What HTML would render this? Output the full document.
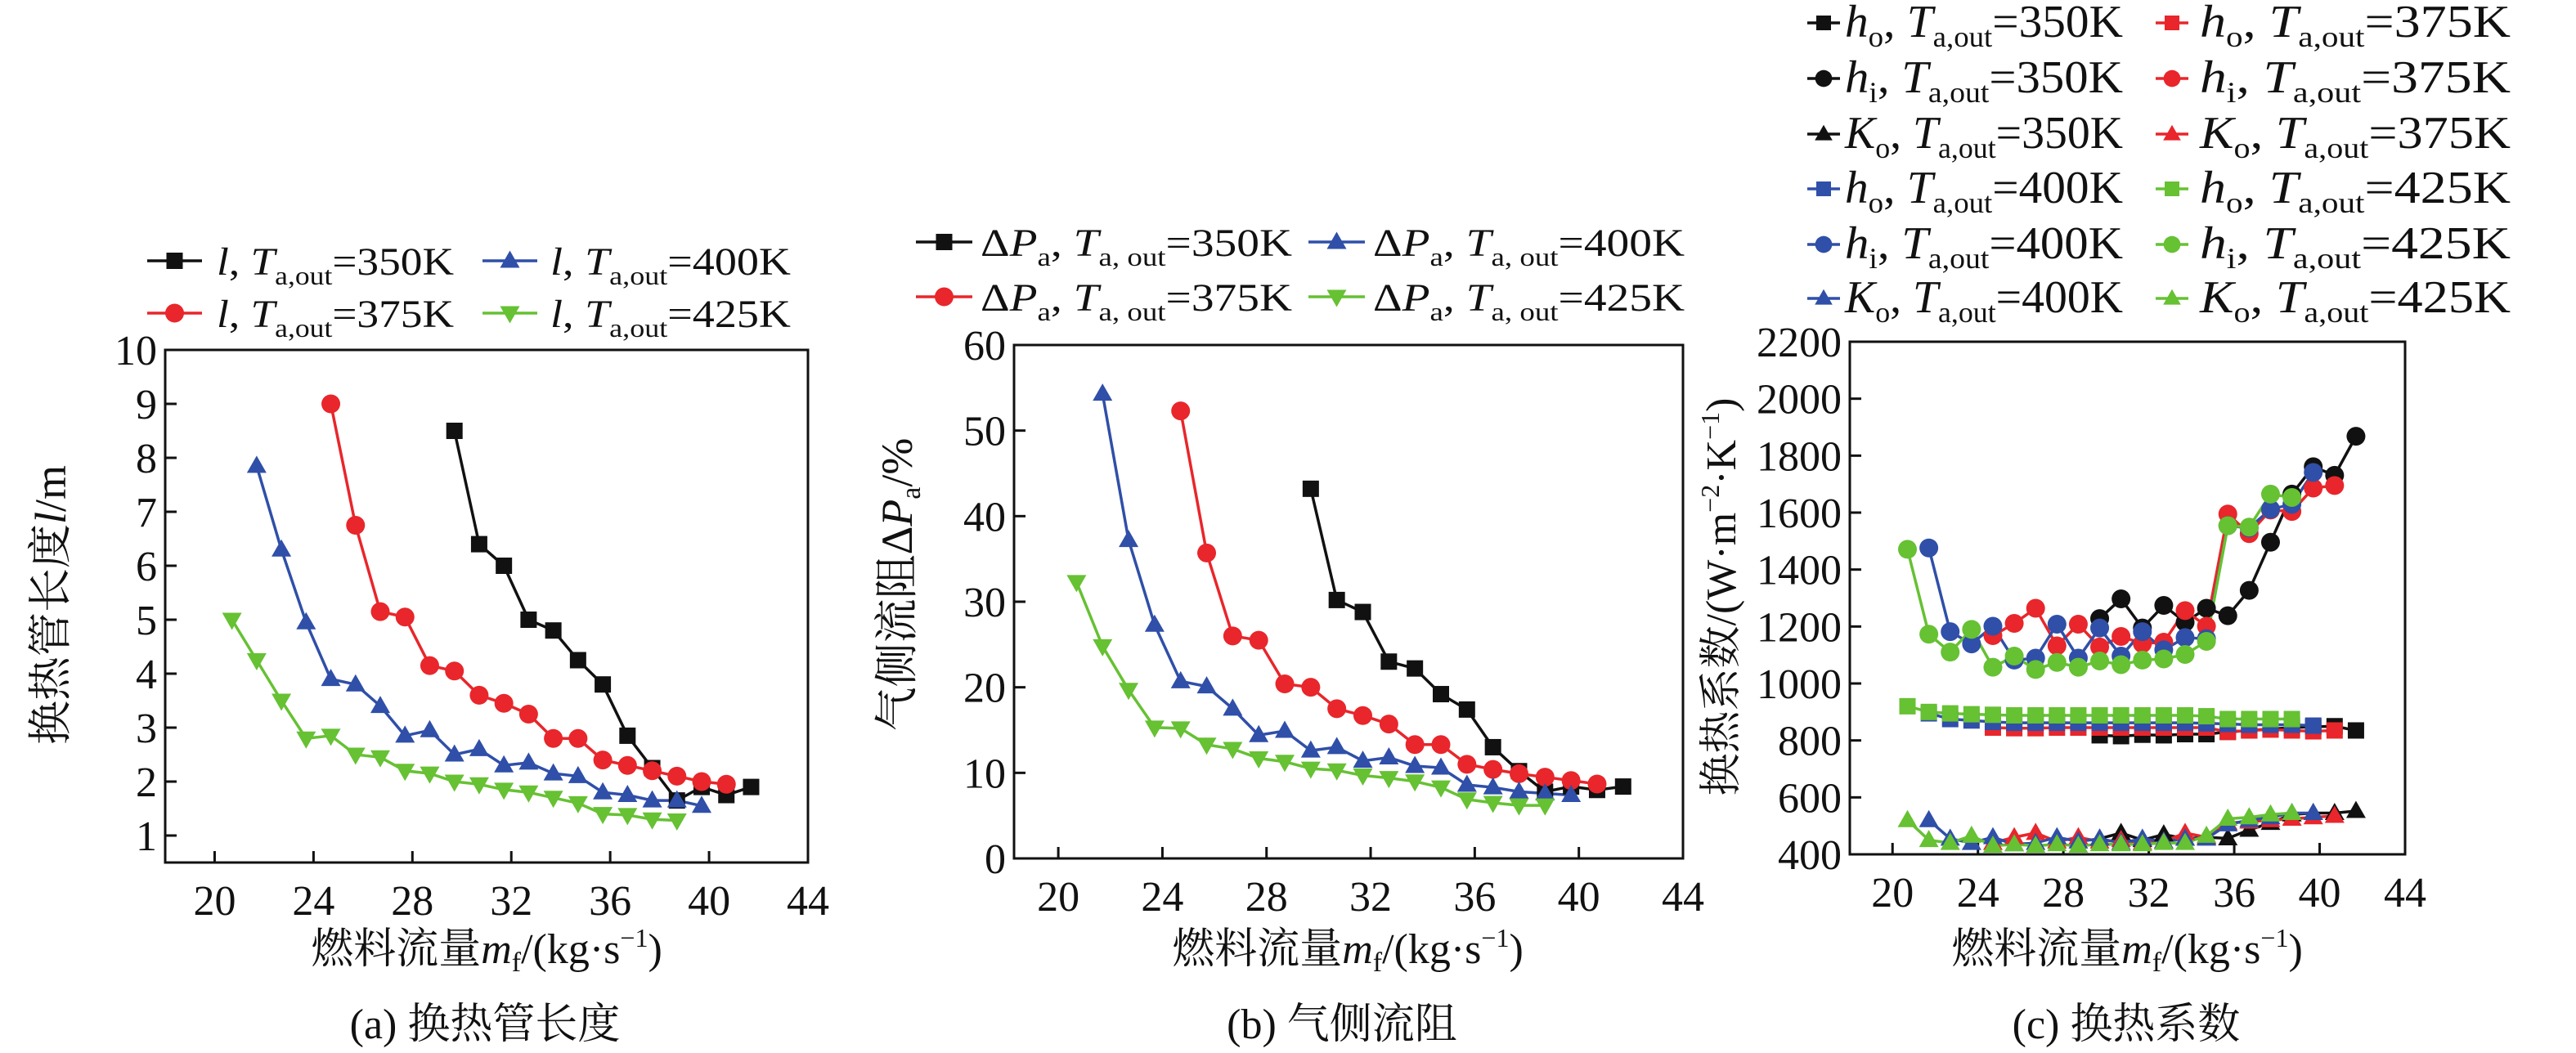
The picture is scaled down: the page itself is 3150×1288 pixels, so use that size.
<!DOCTYPE html>
<html><head><meta charset="utf-8"><style>
html,body{margin:0;padding:0;background:#fff}
svg{display:block}
text{font-family:"Liberation Serif","Noto Serif CJK SC",serif;fill:#111}
</style></head><body>
<svg id="fig" width="3150" height="1288" viewBox="0 0 3150 1288" xmlns="http://www.w3.org/2000/svg"></svg>
<script>
// ---- data ----
const xBlack=[29.7,30.7,31.7,32.7,33.7,34.7,35.7,36.7,37.7,38.7,39.7,40.7,41.7];
const xRed=[24.7,25.7,26.7,27.7,28.7,29.7,30.7,31.7,32.7,33.7,34.7,35.7,36.7,37.7,38.7,39.7,40.7];
const xBlue=[21.7,22.7,23.7,24.7,25.7,26.7,27.7,28.7,29.7,30.7,31.7,32.7,33.7,34.7,35.7,36.7,37.7,38.7,39.7];
const xGreen=[20.7,21.7,22.7,23.7,24.7,25.7,26.7,27.7,28.7,29.7,30.7,31.7,32.7,33.7,34.7,35.7,36.7,37.7,38.7];
// (a) length
const lBlack=[8.5,6.4,6.0,5.0,4.8,4.25,3.8,2.85,2.25,1.65,1.9,1.75,1.9];
const lRed=[9.0,6.75,5.15,5.05,4.15,4.05,3.6,3.45,3.25,2.8,2.8,2.4,2.3,2.2,2.1,2.0,1.95];
const lBlue=[7.85,6.3,4.95,3.9,3.8,3.4,2.85,2.95,2.5,2.6,2.3,2.35,2.15,2.1,1.8,1.75,1.65,1.65,1.55];
const lGreen=[5.0,4.25,3.5,2.8,2.85,2.5,2.45,2.2,2.15,2.0,1.95,1.85,1.8,1.7,1.6,1.4,1.38,1.3,1.28];
// (b) pressure drop
const pBlack=[43.2,30.2,28.8,23.0,22.2,19.2,17.4,13.0,10.2,7.8,8.4,8.0,8.4];
const pRed=[52.3,35.7,26.0,25.5,20.4,20.0,17.5,16.7,15.7,13.3,13.3,11.0,10.4,9.9,9.5,9.1,8.7];
const pBlue=[54.3,37.2,27.3,20.7,20.1,17.5,14.4,14.9,12.6,13.0,11.4,11.8,10.8,10.6,8.6,8.3,7.8,7.6,7.4];
const pGreen=[32.3,24.8,19.7,15.3,15.2,13.3,12.8,11.7,11.3,10.5,10.3,9.7,9.4,9.0,8.3,6.9,6.5,6.2,6.2];
// (c) heat transfer coefficients
const hiBlack=[1228,1297,1195,1274,1215,1264,1238,1327,1496,1665,1761,1731,1868];
const hoBlack=[818,815,820,818,822,822,830,835,840,845,848,850,835];
const koBlack=[455,475,450,470,455,460,456,486,510,540,545,545,552];
const hiRed=[1168,1211,1264,1132,1208,1128,1165,1140,1145,1256,1201,1595,1526,1609,1604,1686,1695];
const hoRed=[845,843,843,845,845,845,845,845,845,845,845,830,835,838,835,832,835];
const koRed=[440,460,475,445,460,445,450,440,445,475,460,510,515,520,525,530,535];
const hiBlue=[1476,1182,1139,1201,1082,1089,1208,1089,1195,1096,1182,1118,1161,1157,1554,1546,1612,1629,1741];
const hoBlue=[895,875,870,865,862,862,862,862,862,862,862,862,862,860,858,855,855,855,852];
const koBlue=[520,455,440,460,435,440,460,445,455,440,455,445,455,455,505,520,530,545,545];
const hiGreen=[1471,1173,1110,1190,1057,1096,1049,1074,1057,1079,1066,1082,1086,1102,1148,1554,1549,1665,1653];
const hoGreen=[920,900,895,892,890,888,888,888,888,888,888,888,888,888,885,875,875,875,875];
const koGreen=[520,450,440,465,430,435,430,435,430,435,435,435,440,440,465,525,530,540,545];
const xTicks=[20,24,28,32,36,40,44];
const yTicksA=[1,2,3,4,5,6,7,8,9,10];
const yTicksB=[0,10,20,30,40,50,60];
const yTicksC=[400,600,800,1000,1200,1400,1600,1800,2000,2200];

const C={k:'#111111',r:'#e8262b',b:'#2f4fa8',g:'#66c133'};
const NS='http://www.w3.org/2000/svg';
const svg=document.getElementById('fig');
function el(tag,attrs,parent){const e=document.createElementNS(NS,tag);for(const k in attrs)e.setAttribute(k,attrs[k]);(parent||svg).appendChild(e);return e;}

function marker(g,shape,cx,cy,col,s){
  let m;
  if(shape==='sq'){m=el('rect',{x:cx-s,y:cy-s,width:2*s,height:2*s,fill:col},g);}
  else if(shape==='ci'){m=el('circle',{cx:cx,cy:cy,r:s*1.15,fill:col},g);}
  else if(shape==='up'){m=el('polygon',{points:`${cx},${cy-s*1.25} ${cx-s*1.2},${cy+s*0.85} ${cx+s*1.2},${cy+s*0.85}`,fill:col},g);}
  else {m=el('polygon',{points:`${cx},${cy+s*1.25} ${cx-s*1.2},${cy-s*0.85} ${cx+s*1.2},${cy-s*0.85}`,fill:col},g);}
  
  
}

function panel(p){
  const g=el('g',{});
  
  
  const sx=v=>p.L+(v-p.x0)/(p.x1-p.x0)*(p.R-p.L);
  const sy=v=>p.B-(v-p.y0)/(p.y1-p.y0)*(p.B-p.T);
  const fr=el('rect',{x:p.L,y:p.T,width:p.R-p.L,height:p.B-p.T,fill:'none',stroke:'#111','stroke-width':3},g);
  
  
  xTicks.forEach(t=>{
    const x=sx(t);
    const tk=el('line',{x1:x,y1:p.B,x2:x,y2:p.B-14,stroke:'#111','stroke-width':3},g);
    
    
    const tl=el('text',{x:x,y:p.B+64,'text-anchor':'middle','font-size':52},g);
    tl.textContent=t;
    
    
  });
  p.yTicks.forEach(t=>{
    const y=sy(t);
    const tk=el('line',{x1:p.L,y1:y,x2:p.L+14,y2:y,stroke:'#111','stroke-width':3},g);
    
    
    const tl=el('text',{x:p.L-10,y:y+18,'text-anchor':'end','font-size':52},g);
    tl.textContent=t;
    
    
  });
  p.series.forEach(s=>{
    const pts=s.x.map((v,i)=>sx(v)+','+sy(s.y[i])).join(' ');
    const ln=el('polyline',{points:pts,fill:'none',stroke:s.c,'stroke-width':3.5},g);
    
    
  });
  p.series.forEach(s=>{
    s.x.forEach((v,i)=>marker(g,s.m,sx(v),sy(s.y[i]),s.c,p.ms||10));
  });
}

panel({name:'panel-a-tube-length',L:202,R:988,T:428,B:1055,x0:18,x1:44,y0:0.5,y1:10,yTicks:yTicksA,
  series:[{x:xBlack,y:lBlack,c:C.k,m:'sq'},{x:xRed,y:lRed,c:C.r,m:'ci'},{x:xBlue,y:lBlue,c:C.b,m:'up'},{x:xGreen,y:lGreen,c:C.g,m:'dn'}]});
panel({name:'panel-b-pressure-drop',L:1240,R:2058,T:422,B:1050,x0:18.3,x1:44,y0:0,y1:60,yTicks:yTicksB,
  series:[{x:xBlack,y:pBlack,c:C.k,m:'sq'},{x:xRed,y:pRed,c:C.r,m:'ci'},{x:xBlue,y:pBlue,c:C.b,m:'up'},{x:xGreen,y:pGreen,c:C.g,m:'dn'}]});
panel({name:'panel-c-heat-transfer',L:2262,R:2941,T:418,B:1045,x0:18,x1:44,y0:400,y1:2200,yTicks:yTicksC,ms:10,
  series:[
   {x:xBlack,y:hoBlack,c:C.k,m:'sq'},{x:xRed,y:hoRed,c:C.r,m:'sq'},{x:xBlue,y:hoBlue,c:C.b,m:'sq'},{x:xGreen,y:hoGreen,c:C.g,m:'sq'},
   {x:xBlack,y:koBlack,c:C.k,m:'up'},{x:xRed,y:koRed,c:C.r,m:'up'},{x:xBlue,y:koBlue,c:C.b,m:'up'},{x:xGreen,y:koGreen,c:C.g,m:'up'},
   {x:xBlack,y:hiBlack,c:C.k,m:'ci'},{x:xRed,y:hiRed,c:C.r,m:'ci'},{x:xBlue,y:hiBlue,c:C.b,m:'ci'},{x:xGreen,y:hiGreen,c:C.g,m:'ci'}]});

// legends
function legendEntry(x1,x2,y,col,shape,html,tx,tw,fs,ms){
  const g=el('g',{});
  
  
  const l=el('line',{x1:x1,y1:y,x2:x2,y2:y,stroke:col,'stroke-width':3.5},g);
  
  
  marker(g,shape,(x1+x2)/2,y,col,ms||10);
  const t=el('text',{x:tx,y:y+17,'font-size':fs||48,textLength:tw,lengthAdjust:'spacingAndGlyphs'},g);
  t.innerHTML=html;
  
  
}
function lab(sym,sub,temp,subSep,sf){
  sf=sf||32;
  return `<tspan font-style="italic">${sym}</tspan>${sub?`<tspan font-size="${sf}" dy="12">${sub}</tspan><tspan dy="-12">, </tspan>`:', '}<tspan font-style="italic">T</tspan><tspan font-size="${sf}" dy="12">${subSep}</tspan><tspan dy="-12">=${temp}K</tspan>`;
}
// (a)
legendEntry(180,247,319,C.k,'sq',lab('l','', '350','a,out'),265,290);
legendEntry(590,657,319,C.b,'up',lab('l','', '400','a,out'),673,294);
legendEntry(180,247,383,C.r,'ci',lab('l','', '375','a,out'),265,290);
legendEntry(590,657,383,C.g,'dn',lab('l','', '425','a,out'),673,294);
// (b)
const dp=(t)=>`Δ<tspan font-style="italic">P</tspan><tspan font-size="32" dy="12">a</tspan><tspan dy="-12">, </tspan><tspan font-style="italic">T</tspan><tspan font-size="32" dy="12">a, out</tspan><tspan dy="-12">=${t}K</tspan>`;
legendEntry(1120,1189,296,C.k,'sq',dp('350'),1199,381);
legendEntry(1600,1669,296,C.b,'up',dp('400'),1679,381);
legendEntry(1120,1189,363,C.r,'ci',dp('375'),1199,381);
legendEntry(1600,1669,363,C.g,'dn',dp('425'),1679,381);
// (c)
const rowsY=[28,96,164,231,299,365];
const cl=[['h','o','sq'],['h','i','ci'],['K','o','up']];
[['350',C.k,0],['400',C.b,3]].forEach(([t,c,r0])=>cl.forEach((e,i)=>legendEntry(2210,2250,rowsY[r0+i],c,e[2],lab(e[0],e[1],t,'a,out',36),2256,340,56,9)));
[['375',C.r,0],['425',C.g,3]].forEach(([t,c,r0])=>cl.forEach((e,i)=>legendEntry(2636,2676,rowsY[r0+i],c,e[2],lab(e[0],e[1],t,'a,out',36),2690,380,56,9)));
</script>
<div style="position:absolute;left:0;top:0;width:3150px;height:1288px;pointer-events:none">
<svg width="3150" height="1288" style="position:absolute;left:0;top:0" xmlns="http://www.w3.org/2000/svg">
 <text transform="translate(80,740) rotate(-90)" text-anchor="middle" font-size="54">换热管长度<tspan font-style="italic">l</tspan>/m</text>
 <text x="595" y="1178" text-anchor="middle" font-size="52">燃料流量<tspan font-style="italic">m</tspan><tspan font-size="34" dy="10">f</tspan><tspan dy="-10">/(kg·s</tspan><tspan font-size="32" dy="-20">−1</tspan><tspan dy="20">)</tspan></text>
 <text x="593" y="1270" text-anchor="middle" font-size="52">(a) 换热管长度</text>

 <text transform="translate(1115,715) rotate(-90)" text-anchor="middle" font-size="54">气侧流阻Δ<tspan font-style="italic">P</tspan><tspan font-size="34" dy="10">a</tspan><tspan dy="-10">/%</tspan></text>
 <text x="1648" y="1178" text-anchor="middle" font-size="52">燃料流量<tspan font-style="italic">m</tspan><tspan font-size="34" dy="10">f</tspan><tspan dy="-10">/(kg·s</tspan><tspan font-size="32" dy="-20">−1</tspan><tspan dy="20">)</tspan></text>
 <text x="1641" y="1270" text-anchor="middle" font-size="52">(b) 气侧流阻</text>

 <text transform="translate(2122,730) rotate(-90)" text-anchor="middle" font-size="52">换热系数/(W·m<tspan font-size="32" dy="-20">−2</tspan><tspan dy="20">·K</tspan><tspan font-size="32" dy="-20">−1</tspan><tspan dy="20">)</tspan></text>
 <text x="2601" y="1178" text-anchor="middle" font-size="52">燃料流量<tspan font-style="italic">m</tspan><tspan font-size="34" dy="10">f</tspan><tspan dy="-10">/(kg·s</tspan><tspan font-size="32" dy="-20">−1</tspan><tspan dy="20">)</tspan></text>
 <text x="2600" y="1270" text-anchor="middle" font-size="52">(c) 换热系数</text>
</svg></div>
</body></html>
